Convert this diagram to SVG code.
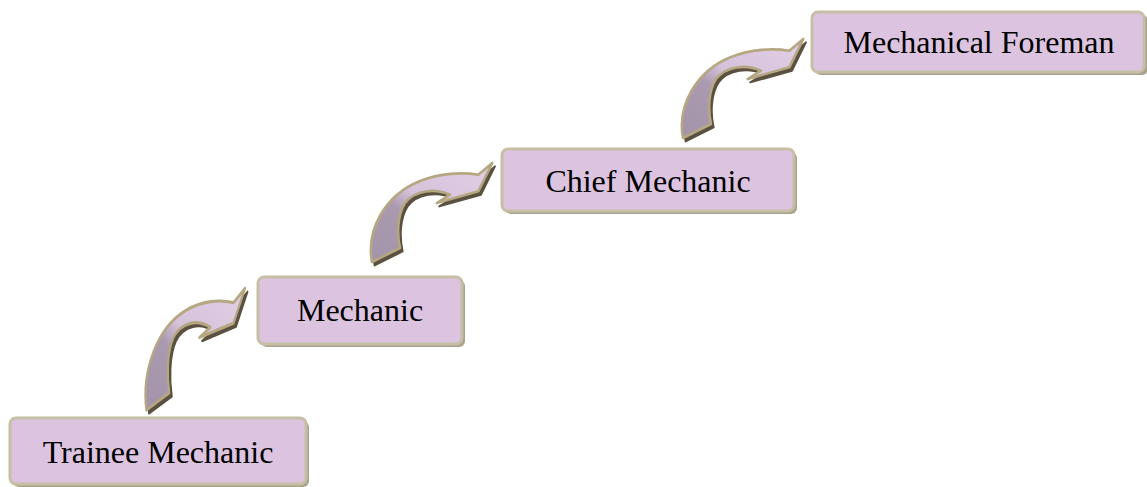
<svg xmlns="http://www.w3.org/2000/svg" xmlns:xlink="http://www.w3.org/1999/xlink" width="1147" height="487" viewBox="0 0 1147 487">
  <defs>
    <linearGradient id="arrowGrad" x1="0" y1="1" x2="1" y2="0">
      <stop offset="0" stop-color="#A494A9"/>
      <stop offset="0.38" stop-color="#AA9AAF"/>
      <stop offset="0.52" stop-color="#D6C2DA"/>
      <stop offset="1" stop-color="#E2CFE6"/>
    </linearGradient>
    <path id="arrowShape" d="M 2,99 C -4,67 15,32 50,18 C 70,10 92,9 108.3,11.7 L 122.3,0 L 108.3,28.3 L 66.7,40 L 80,31.7 C 65,25 45,27 35,40 C 27,52 27,72 30,85 Z"/>
  </defs>
  <style>
    .box { fill: #DCC4E0; stroke: #C6BEA5; stroke-width: 3; }
    .shadow { fill: #A9A38E; }
    .label { font-family: "Liberation Serif", "Times New Roman", serif; font-size: 32px; fill: #000000; text-anchor: middle; }
    .ext { fill: #5A5140; stroke: #5A5140; stroke-width: 2; stroke-linejoin: round; }
    .face { fill: url(#arrowGrad); stroke: #B5A782; stroke-width: 2.6; stroke-linejoin: round; }
  </style>

  <g id="connectors">
    <g id="arrow1" transform="translate(144.7,288.3) scale(0.82,1.23)">
      <use xlink:href="#arrowShape" class="ext" transform="translate(3.2,2.8)" vector-effect="non-scaling-stroke"/>
      <use xlink:href="#arrowShape" class="face" vector-effect="non-scaling-stroke"/>
    </g>
    <g id="arrow2" transform="translate(370,163)">
      <use xlink:href="#arrowShape" class="ext" transform="translate(2.6,3.4)"/>
      <use xlink:href="#arrowShape" class="face"/>
    </g>
    <g id="arrow3" transform="translate(681,39)">
      <use xlink:href="#arrowShape" class="ext" transform="translate(2.6,3.4)"/>
      <use xlink:href="#arrowShape" class="face"/>
    </g>
  </g>

  <g id="node-trainee">
    <rect class="shadow" x="13" y="421" width="296" height="66" rx="6"/>
    <rect class="box" x="10" y="418" width="296" height="66" rx="6"/>
    <text class="label" x="158" y="463">Trainee Mechanic</text>
  </g>

  <g id="node-mechanic">
    <rect class="shadow" x="261" y="280" width="204" height="67" rx="6"/>
    <rect class="box" x="258" y="277" width="204" height="67" rx="6"/>
    <text class="label" x="360" y="321">Mechanic</text>
  </g>

  <g id="node-chief">
    <rect class="shadow" x="505" y="152" width="292" height="62" rx="6"/>
    <rect class="box" x="502" y="149" width="292" height="62" rx="6"/>
    <text class="label" x="648" y="192">Chief Mechanic</text>
  </g>

  <g id="node-foreman">
    <rect class="shadow" x="815" y="15" width="333" height="60" rx="6"/>
    <rect class="box" x="812" y="12" width="332" height="60" rx="6"/>
    <text class="label" x="979" y="53">Mechanical Foreman</text>
  </g>
</svg>
